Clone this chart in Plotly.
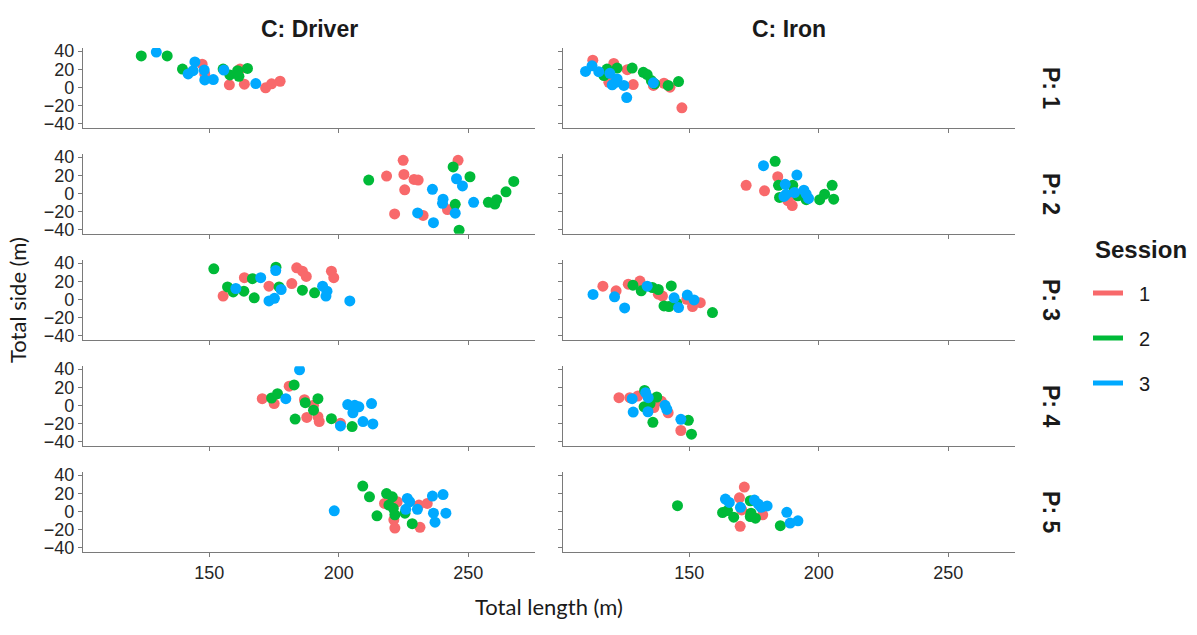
import plotly.graph_objects as go

# ---------------- data (Total length, Total side) ----------------
SESSIONS = ["1", "2", "3"]
PLAYERS = ["P: 1", "P: 2", "P: 3", "P: 4", "P: 5"]
CLUBS = ["C: Driver", "C: Iron"]

# P1 Driver
P1_DRIVER_S1_X = [147.3, 148.3, 157.8, 161.9, 163.6, 171.8, 174.1, 177.4]
P1_DRIVER_S1_Y = [25.6, 14.8, 2.9, 20.2, 3.6, -0.4, 4.0, 6.8]
P1_DRIVER_S2_X = [123.8, 133.8, 139.7, 155.4, 158.0, 161.0, 161.5, 164.8]
P1_DRIVER_S2_Y = [34.6, 34.6, 20.2, 20.2, 13.7, 18.4, 12.2, 20.9]
P1_DRIVER_S3_X = [129.6, 141.9, 143.8, 144.5, 148.1, 148.3, 151.6, 155.7, 168.0]
P1_DRIVER_S3_Y = [38.9, 14.8, 18.4, 28.1, 19.1, 8.3, 8.6, 19.1, 4.3]
# P1 Iron
P1_IRON_S1_X = [112.8, 120.9, 119.0, 126.1, 128.4, 136.2, 140.3, 142.6, 147.2]
P1_IRON_S1_Y = [29.9, 26.3, 5.7, 19.5, 3.2, 2.2, 4.6, 0.3, -22.4]
P1_IRON_S2_X = [117.1, 118.3, 122.2, 128.0, 132.3, 133.8, 135.4, 136.7, 141.9, 145.9]
P1_IRON_S2_Y = [13.0, 20.2, 21.3, 21.3, 16.6, 14.1, 7.6, 4.0, 2.2, 6.5]
P1_IRON_S3_X = [110.0, 112.5, 115.1, 119.4, 120.3, 121.6, 122.2, 124.8, 125.9, 136.2]
P1_IRON_S3_Y = [17.6, 23.8, 17.3, 15.5, 2.9, 5.7, 9.4, 2.2, -11.1, 5.1]

# P2 Driver
P2_DRIVER_S1_X = [218.5, 224.9, 225.2, 229.1, 230.7, 225.5, 221.6, 232.6, 242.0, 246.1]
P2_DRIVER_S1_Y = [19.1, 36.4, 20.9, 15.5, 14.8, 4.0, -22.4, -24.1, -17.6, 36.4]
P2_DRIVER_S2_X = [211.6, 245.0, 244.2, 250.7, 246.5, 257.8, 260.3, 261.0, 264.6, 267.6]
P2_DRIVER_S2_Y = [14.8, -11.9, 29.2, 18.4, -40.3, -9.7, -11.6, -6.8, 1.8, 13.3]
P2_DRIVER_S3_X = [230.5, 236.2, 236.6, 240.3, 240.1, 245.0, 245.5, 247.8, 252.1]
P2_DRIVER_S3_Y = [-21.3, 4.6, -32.1, -6.2, -10.8, -21.6, 16.2, 8.3, -9.7]
# P2 Iron
P2_IRON_S1_X = [172.0, 179.1, 184.2, 188.1, 189.8, 190.7]
P2_IRON_S1_Y = [9.0, 2.9, 18.4, -7.9, -13.3, -1.8]
P2_IRON_S2_X = [183.2, 184.5, 190.0, 184.9, 192.0, 195.2, 200.4, 202.3, 205.2, 205.8]
P2_IRON_S2_Y = [35.4, 9.0, 9.0, -4.3, -2.5, -6.8, -6.8, -0.7, 9.0, -6.2]
P2_IRON_S3_X = [178.7, 187.1, 191.6, 186.6, 187.5, 190.7, 194.3, 195.2, 196.1]
P2_IRON_S3_Y = [30.6, 10.1, 20.2, -3.2, -0.7, 1.1, 3.6, -0.7, -5.4]

# P3 Driver
P3_DRIVER_S1_X = [155.4, 163.6, 173.1, 181.9, 183.8, 186.0, 187.5, 197.2, 198.1]
P3_DRIVER_S1_Y = [3.8, 24.0, 14.6, 17.5, 34.8, 31.1, 25.4, 31.1, 24.0]
P3_DRIVER_S2_X = [151.8, 157.1, 159.3, 163.4, 166.7, 167.4, 175.8, 177.0, 186.0, 190.7]
P3_DRIVER_S2_Y = [33.7, 13.8, 8.4, 9.2, 22.9, 1.9, 35.5, 13.8, 10.3, 7.4]
P3_DRIVER_S3_X = [160.3, 169.9, 173.1, 175.2, 175.7, 177.8, 193.8, 195.5, 195.1, 204.3]
P3_DRIVER_S3_Y = [12.1, 24.0, -1.6, 1.3, 31.9, 11.0, 14.6, 9.2, 3.8, -1.6]
# P3 Iron
P3_IRON_S1_X = [116.7, 121.8, 126.5, 131.0, 138.1, 139.7, 149.1, 151.3, 154.3]
P3_IRON_S1_Y = [14.6, 9.5, 16.8, 20.3, 5.9, 3.8, 0.2, -7.8, -3.5]
P3_IRON_S2_X = [128.3, 131.5, 135.8, 138.1, 140.3, 142.2, 143.1, 145.2, 159.0]
P3_IRON_S2_Y = [15.7, 9.5, 13.2, 11.0, -7.0, -7.8, 14.9, -4.1, -14.3]
P3_IRON_S3_X = [112.9, 121.2, 125.1, 133.8, 144.2, 145.9, 149.3, 151.9]
P3_IRON_S3_Y = [5.6, 3.0, -9.2, 14.6, 1.9, -8.9, 4.9, -0.5]

# P4 Driver
P4_DRIVER_S1_X = [180.9, 170.5, 175.1, 186.8, 190.3, 187.7, 192.0, 192.5, 200.7]
P4_DRIVER_S1_Y = [21.3, 7.6, 2.2, 6.5, 0.3, -13.0, -12.2, -17.6, -19.5]
P4_DRIVER_S2_X = [182.8, 174.1, 176.4, 187.1, 192.0, 190.3, 183.2, 197.2, 205.2]
P4_DRIVER_S2_Y = [22.7, 8.3, 13.0, 3.2, 7.6, -5.1, -14.8, -14.4, -23.1]
P4_DRIVER_S3_X = [184.9, 179.6, 200.7, 203.5, 205.5, 206.2, 207.8, 209.4, 212.7, 213.2]
P4_DRIVER_S3_Y = [39.3, 7.6, -22.4, 1.1, -7.9, 0.3, -1.4, -17.6, 2.2, -20.2]
# P4 Iron
P4_IRON_S1_X = [122.9, 127.1, 130.2, 135.8, 136.4, 139.3, 141.9, 146.8]
P4_IRON_S1_Y = [8.6, 8.6, 10.5, 5.7, -2.2, 4.6, -7.9, -27.4]
P4_IRON_S2_X = [132.8, 132.6, 134.9, 137.5, 136.0, 149.7, 150.9]
P4_IRON_S2_Y = [16.6, -1.4, 2.2, 9.4, -18.4, -16.2, -31.4]
P4_IRON_S3_X = [128.0, 128.4, 133.2, 134.2, 134.1, 140.7, 141.4, 146.8]
P4_IRON_S3_Y = [7.6, -7.2, 14.1, 8.6, -6.8, 0.3, -4.3, -15.1]

# P5 Driver
P5_DRIVER_S1_X = [217.7, 222.6, 221.3, 221.7, 231.0, 231.4, 234.2]
P5_DRIVER_S1_Y = [9.0, 10.8, -9.0, -18.1, 7.2, -17.3, 9.0]
P5_DRIVER_S2_X = [209.3, 211.9, 214.8, 218.5, 220.7, 219.4, 221.1, 221.7, 225.6, 228.4]
P5_DRIVER_S2_Y = [28.1, 16.2, -4.6, 19.8, 16.2, 7.2, 3.6, -3.6, -1.8, -13.3]
P5_DRIVER_S3_X = [198.3, 226.5, 227.4, 225.9, 230.4, 236.2, 240.3, 236.6, 237.2, 241.4]
P5_DRIVER_S3_Y = [0.8, 14.4, 10.8, 2.5, 2.5, 17.0, 18.7, -1.8, -11.6, -1.8]
# P5 Iron
P5_IRON_S1_X = [169.4, 171.3, 170.3, 169.7, 178.4]
P5_IRON_S1_Y = [15.1, 27.0, 1.8, -16.2, -3.6]
P5_IRON_S2_X = [145.5, 162.9, 164.8, 167.2, 173.6, 173.6, 175.6, 173.9, 185.2]
P5_IRON_S2_Y = [6.5, -1.1, 1.1, -6.1, 11.9, -5.4, -7.2, -1.8, -15.5]
P5_IRON_S3_X = [164.0, 165.5, 169.8, 175.2, 176.7, 177.8, 180.1, 187.7, 189.0, 192.0]
P5_IRON_S3_Y = [13.7, 10.1, 4.7, 12.6, 8.3, 4.7, 6.2, -0.8, -12.6, -10.1]

X_TICKS = [150, 200, 250]
Y_TICKS = [-40, -20, 0, 20, 40]

# ---------------- style ----------------
COLORS = {"1": "#F8696B", "2": "#00BA38", "3": "#00A9FF"}
W, H = 1197, 635
AXIS_COL = "#7a7a7a"
TXT = "#1a1a1a"
TICK_FONT = dict(family="Liberation Sans, Arial", size=18, color="#262626")
X_RANGE = [101.3, 275.8]
Y_RANGE = [-44.3, 43.3]

COL_LEFT = [83, 563]
COL_W = 452
ROW_TOP0 = 41.9
ROW_STEP = 108.25
ROW_H = 81.4

g = globals()
fig = go.Figure()

for r, _p in enumerate(PLAYERS):
    for c, club in enumerate(CLUBS):
        idx = r * 2 + c + 1
        xa = "x" if idx == 1 else f"x{idx}"
        ya = "y" if idx == 1 else f"y{idx}"
        cname = "DRIVER" if c == 0 else "IRON"
        for s in SESSIONS:
            xs = g[f"P{r+1}_{cname}_S{s}_X"]
            ys = g[f"P{r+1}_{cname}_S{s}_Y"]
            fig.add_trace(go.Scatter(
                x=xs, y=ys, mode="markers", xaxis=xa, yaxis=ya,
                marker=dict(color=COLORS[s], size=11, line=dict(width=0)),
                showlegend=False, hoverinfo="skip"))
        top = ROW_TOP0 + r * ROW_STEP
        bot = top + ROW_H
        xd = [COL_LEFT[c] / W, (COL_LEFT[c] + COL_W) / W]
        yd = [1 - bot / H, 1 - top / H]
        xkey = "xaxis" if idx == 1 else f"xaxis{idx}"
        ykey = "yaxis" if idx == 1 else f"yaxis{idx}"
        fig.update_layout(**{
            xkey: dict(domain=xd, range=X_RANGE, anchor=ya, tickvals=X_TICKS,
                       showticklabels=(r == len(PLAYERS) - 1),
                       showline=True, linecolor=AXIS_COL, linewidth=1.3,
                       ticks="outside", ticklen=4, tickcolor=AXIS_COL, tickwidth=1.3,
                       showgrid=False, zeroline=False, tickfont=TICK_FONT),
            ykey: dict(domain=yd, range=Y_RANGE, anchor=xa, tickvals=Y_TICKS,
                       showticklabels=(c == 0),
                       showline=True, linecolor=AXIS_COL, linewidth=1.3,
                       ticks="outside", ticklen=4, tickcolor=AXIS_COL, tickwidth=1.3,
                       showgrid=False, zeroline=False, tickfont=TICK_FONT),
        })

# legend-only traces (line keys)
NBSP = "\u00a0"
for s in SESSIONS:
    fig.add_trace(go.Scatter(x=[None], y=[None], mode="lines", name=NBSP * 2 + s,
                             legendgroup=s,
                             line=dict(color=COLORS[s], width=5)))

ann = []
STRIP_FONT = dict(family="Liberation Sans, Arial", size=23, color=TXT)
for c, club in enumerate(CLUBS):
    ann.append(dict(text=f"<b>{club}</b>", x=(COL_LEFT[c] + COL_W / 2) / W, y=1 - 22 / H,
                    xref="paper", yref="paper", showarrow=False, font=STRIP_FONT,
                    xanchor="center", yanchor="middle"))
for r, p in enumerate(PLAYERS):
    yc = ROW_TOP0 + r * ROW_STEP + ROW_H / 2
    ann.append(dict(text=f"<b>{p}</b>", x=1051 / W, y=1 - yc / H, textangle=90,
                    xref="paper", yref="paper", showarrow=False, font=STRIP_FONT,
                    xanchor="center", yanchor="middle"))
TITLE_FONT = dict(family="Lato, Liberation Sans", size=22, color=TXT)
ann.append(dict(text="Total length (m)", x=(COL_LEFT[0] + COL_LEFT[1] + COL_W) / 2 / W,
                y=1 - 612 / H, xref="paper", yref="paper", showarrow=False,
                font=TITLE_FONT, xanchor="center", yanchor="middle"))
ann.append(dict(text="Total side (m)", x=18 / W,
                y=1 - (ROW_TOP0 + 4 * ROW_STEP + ROW_H + ROW_TOP0) / 2 / H,
                textangle=-90, xref="paper", yref="paper", showarrow=False,
                font=TITLE_FONT, xanchor="center", yanchor="middle"))
ann.append(dict(text="<b>Session</b>", x=1093 / W, y=1 - 248 / H,
                xref="paper", yref="paper", showarrow=False,
                font=dict(family="Liberation Sans, Arial", size=24, color=TXT),
                xanchor="left", yanchor="middle"))

fig.update_layout(
    width=W, height=H, autosize=False,
    margin=dict(l=0, r=0, t=0, b=0),
    paper_bgcolor="white", plot_bgcolor="white",
    annotations=ann,
    showlegend=True,
    legend=dict(x=1088 / W, y=1 - 272 / H, xanchor="left", yanchor="top",
                font=dict(family="Liberation Sans, Arial", size=20, color=TXT),
                tracegroupgap=16, itemwidth=30, bgcolor="rgba(0,0,0,0)"),
)

fig.write_html("out.html")
